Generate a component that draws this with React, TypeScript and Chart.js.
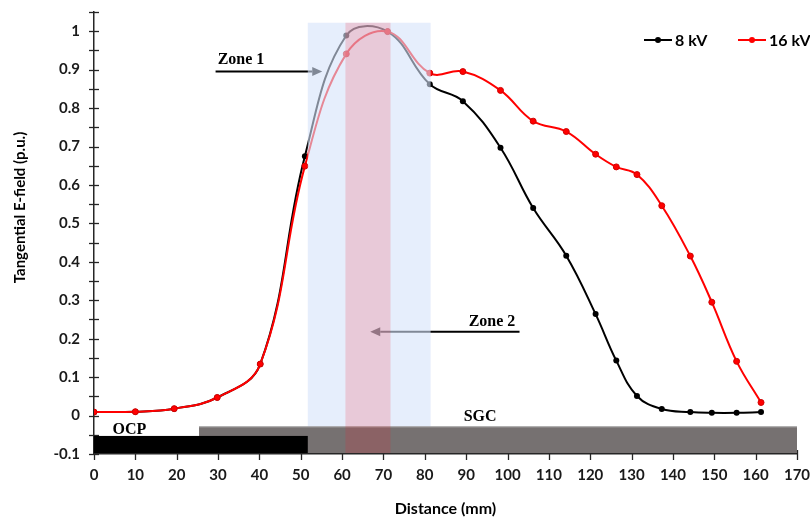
import React, { useEffect, useRef } from 'react';
import { Chart, registerables } from 'chart.js';

Chart.register(...registerables);

// ---- data ----
const distanceMm = [0, 10, 19.4, 29.8, 40.2, 51, 61, 71, 81.2, 89.2, 98.3, 106.2, 114.2, 121.3, 126.3, 131.3, 137.3, 144.2, 149.4, 155.4, 161.3];
const field8kV = [0.009, 0.010, 0.018, 0.047, 0.134, 0.675, 0.989, 0.999, 0.862, 0.818, 0.697, 0.540, 0.416, 0.264, 0.143, 0.051, 0.017, 0.009, 0.007, 0.007, 0.009];
const field16kV = [0.009, 0.010, 0.018, 0.047, 0.134, 0.649, 0.941, 0.999, 0.891, 0.895, 0.846, 0.766, 0.739, 0.680, 0.647, 0.627, 0.546, 0.415, 0.295, 0.141, 0.034];
const seriesLabels = ['8 kV', '16 kV'];
const xAxisTitle = 'Distance (mm)';
const yAxisTitle = 'Tangential E-field (p.u.)';
const zoneLabels = ['Zone 1', 'Zone 2'];
const regionLabels = ['OCP', 'SGC'];

// ---- annotation geometry (data coordinates) ----
const zone1Band = { x0: 51.7, x1: 81.4, top: 1.022 };
const zone2Band = { x0: 60.8, x1: 71.7, top: 1.022 };
const ocpBar = { x0: 0, x1: 51.7, top: -0.053 };
const sgcBar = { x0: 25.4, x1: 170, top: -0.028 };
const zone1Text = { x: 29.9, y: 0.9135 };
const zone1Arrow = { from: 29.4, to: 55.2, y: 0.895 };
const zone2Text = { x: 90.6, y: 0.233 };
const zone2Arrow = { from: 102.9, to: 66.8, y: 0.218 };
const ocpText = { x: 4.5, y: -0.0475 };
const sgcText = { x: 89.4, y: -0.013 };

const SANS = 'Lato, "Open Sans", sans-serif';
const SERIF = '"Liberation Serif", "DejaVu Serif", serif';

function drawArrow(ctx: CanvasRenderingContext2D, x0: number, x1: number, y: number) {
  const dir = x1 > x0 ? 1 : -1;
  const headLen = 10;
  ctx.beginPath();
  ctx.moveTo(x0, y);
  ctx.lineTo(x1 - dir * headLen, y);
  ctx.stroke();
  ctx.beginPath();
  ctx.moveTo(x1, y);
  ctx.lineTo(x1 - dir * headLen, y - 4.5);
  ctx.lineTo(x1 - dir * headLen, y + 4.5);
  ctx.closePath();
  ctx.fill();
}

const decorPlugin = {
  id: 'decor',
  beforeDatasetsDraw(chart: any) {
    const { ctx, scales } = chart;
    const x = scales.x, y = scales.y;
    ctx.save();
    ctx.strokeStyle = '#262626';
    ctx.lineWidth = 1.3;
    const ax = x.left;
    y.ticks.forEach((t: any) => {
      const py = Math.round(y.getPixelForValue(t.value)) + 0.5;
      ctx.beginPath();
      ctx.moveTo(ax - 5, py);
      ctx.lineTo(ax + 5, py);
      ctx.stroke();
    });
    const ay = y.bottom;
    x.ticks.forEach((t: any) => {
      const px = Math.round(x.getPixelForValue(t.value)) + 0.5;
      ctx.beginPath();
      ctx.moveTo(px, ay - 4);
      ctx.lineTo(px, ay + 6);
      ctx.stroke();
    });
    ctx.restore();
  },
  afterDatasetsDraw(chart: any) {
    const { ctx, scales } = chart;
    const x = scales.x, y = scales.y;
    const px = (v: number) => x.getPixelForValue(v);
    const py = (v: number) => y.getPixelForValue(v);
    const bottom = y.bottom - 1;
    ctx.save();
    // zone labels and arrows
    ctx.fillStyle = '#000';
    ctx.strokeStyle = '#000';
    ctx.lineWidth = 2;
    ctx.font = `bold 16px ${SERIF}`;
    ctx.textAlign = 'left';
    ctx.textBaseline = 'alphabetic';
    ctx.fillText(zoneLabels[0], px(zone1Text.x), py(zone1Text.y));
    drawArrow(ctx, px(zone1Arrow.from), px(zone1Arrow.to), py(zone1Arrow.y));
    ctx.fillText(zoneLabels[1], px(zone2Text.x), py(zone2Text.y));
    drawArrow(ctx, px(zone2Arrow.from), px(zone2Arrow.to), py(zone2Arrow.y));
    // zone 1 band (translucent, over the curves)
    ctx.fillStyle = 'rgba(213,227,250,0.6)';
    ctx.fillRect(px(zone1Band.x0), py(zone1Band.top), px(zone1Band.x1) - px(zone1Band.x0), bottom - py(zone1Band.top));
    // SGC bar
    ctx.fillStyle = '#767171';
    ctx.fillRect(px(sgcBar.x0), py(sgcBar.top), px(sgcBar.x1) - px(sgcBar.x0), bottom - py(sgcBar.top));
    ctx.fillStyle = 'rgba(190,190,190,0.8)';
    ctx.fillRect(px(sgcBar.x0), py(sgcBar.top), px(sgcBar.x1) - px(sgcBar.x0), 1);
    // OCP bar
    ctx.fillStyle = '#000';
    ctx.fillRect(px(ocpBar.x0), py(ocpBar.top), px(ocpBar.x1) - px(ocpBar.x0), bottom - py(ocpBar.top));
    // zone 2 band
    ctx.fillStyle = 'rgba(241,36,52,0.18)';
    ctx.fillRect(px(zone2Band.x0), py(zone2Band.top), px(zone2Band.x1) - px(zone2Band.x0), bottom - py(zone2Band.top));
    // region labels
    ctx.fillStyle = '#000';
    ctx.font = `bold 16px ${SERIF}`;
    ctx.fillText(regionLabels[0], px(ocpText.x), py(ocpText.y));
    ctx.fillText(regionLabels[1], px(sgcText.x), py(sgcText.y));
    ctx.restore();
  },
  afterDraw(chart: any) {
    const { ctx } = chart;
    ctx.save();
    // legend
    const items = [
      { label: seriesLabels[0], color: '#000000', x: 644 },
      { label: seriesLabels[1], color: '#ff0000', x: 738 },
    ];
    const ly = 40;
    ctx.font = `bold 16px ${SANS}`;
    ctx.textBaseline = 'middle';
    ctx.textAlign = 'left';
    items.forEach((it) => {
      ctx.strokeStyle = it.color;
      ctx.fillStyle = it.color;
      ctx.lineWidth = 2;
      ctx.beginPath();
      ctx.moveTo(it.x, ly);
      ctx.lineTo(it.x + 28, ly);
      ctx.stroke();
      ctx.beginPath();
      ctx.arc(it.x + 14, ly, 3, 0, Math.PI * 2);
      ctx.fill();
      ctx.fillStyle = '#000';
      ctx.fillText(it.label, it.x + 31, ly + 1);
    });
    // y axis title
    ctx.translate(20, 207.5);
    ctx.rotate(-Math.PI / 2);
    ctx.textAlign = 'center';
    ctx.fillStyle = '#000';
    ctx.font = `bold 15px ${SANS}`;
    ctx.fillText(yAxisTitle, 0, 0);
    ctx.restore();
  },
};

export default function App() {
  const ref = useRef<HTMLCanvasElement | null>(null);
  useEffect(() => {
    if (!ref.current) return;
    const chart = new Chart(ref.current, {
      type: 'line',
      data: {
        datasets: [
          {
            label: seriesLabels[0],
            data: distanceMm.map((d, i) => ({ x: d, y: field8kV[i] })),
            borderColor: '#000000',
            backgroundColor: '#000000',
            borderWidth: 2,
            pointRadius: 3,
            pointBorderWidth: 0,
            tension: 0.4,
            order: 1,
          },
          {
            label: seriesLabels[1],
            data: distanceMm.map((d, i) => ({ x: d, y: field16kV[i] })),
            borderColor: '#ff0000',
            backgroundColor: '#ff0000',
            pointBorderColor: '#d00000',
            borderWidth: 2,
            pointRadius: 3,
            pointBorderWidth: 1,
            tension: 0.4,
            order: 0,
          },
        ],
      },
      options: {
        animation: false,
        responsive: false,
        maintainAspectRatio: false,
        layout: { padding: { top: 12, right: 13, left: 0, bottom: 0 } },
        plugins: { legend: { display: false }, tooltip: { enabled: false } },
        scales: {
          x: {
            type: 'linear',
            min: 0,
            max: 170,
            afterFit: (s: any) => { s.height = 65; s.paddingLeft = 0; s.paddingRight = 0; },
            grid: { display: true, drawOnChartArea: false, drawTicks: false },
            border: { display: true, color: '#262626', width: 1.5 },
            ticks: {
              stepSize: 10,
              autoSkip: false,
              maxRotation: 0,
              padding: 12,
              color: '#1a1a1a',
              font: { family: SANS, size: 15, weight: 'bold' },
            },
            title: {
              display: true,
              text: xAxisTitle,
              color: '#000',
              font: { family: SANS, size: 16, weight: 'bold' },
              padding: { top: 0, bottom: 1 },
            },
          },
          y: {
            type: 'linear',
            min: -0.1,
            max: 1.05,
            afterFit: (s: any) => { s.width = 94; s.paddingTop = 0; s.paddingBottom = 0; },
            grid: { display: true, drawOnChartArea: false, drawTicks: false },
            border: { display: true, color: '#262626', width: 1.5 },
            ticks: {
              stepSize: 0.05,
              autoSkip: false,
              padding: 14,
              color: '#1a1a1a',
              font: { family: SANS, size: 15, weight: 'bold' },
              callback: (v: any) => {
                const t = Number(v) * 10;
                if (Math.abs(t - Math.round(t)) > 1e-6) return '';
                if (Math.round(t) > 10) return '';
                return String(Math.round(t) / 10);
              },
            },
          },
        },
      },
      plugins: [decorPlugin],
    } as any);
    return () => chart.destroy();
  }, []);
  return (
    <div style={{ position: 'absolute', left: 0, top: 0, width: 810, height: 519, background: '#fff' }}>
      <canvas ref={ref} width={810} height={519} style={{ display: 'block' }} />
    </div>
  );
}
